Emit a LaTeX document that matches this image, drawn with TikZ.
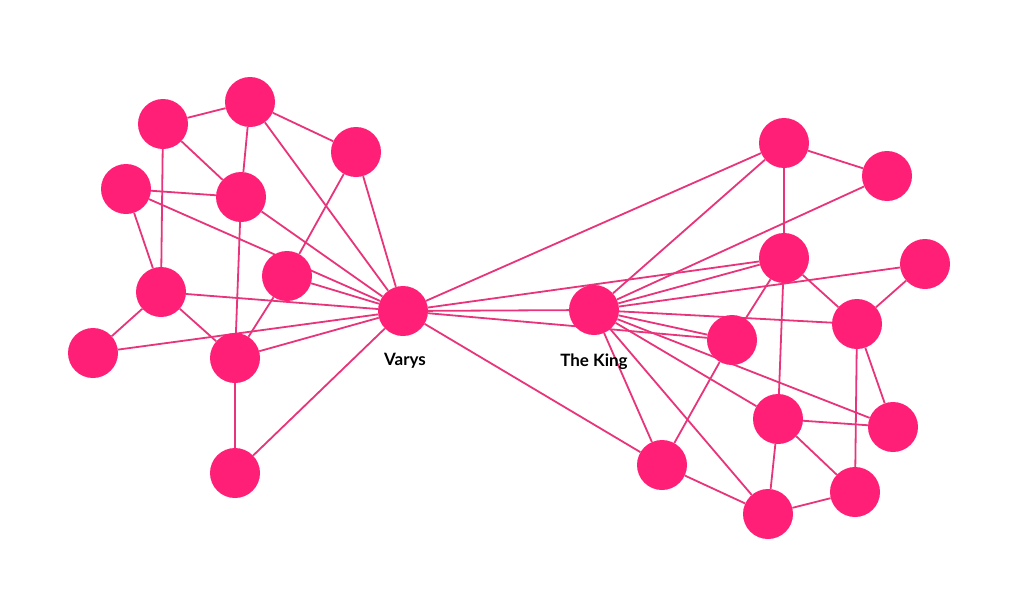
\documentclass[tikz,border=0pt]{standalone}
\usepackage{fontspec}
\setmainfont{Lato}
\usetikzlibrary{backgrounds}
\definecolor{nodepink}{RGB}{255,31,118}
\definecolor{edgepink}{RGB}{232,52,122}
\begin{document}
\begin{tikzpicture}[x=1pt,y=1pt,
  vertex/.style={circle,fill=nodepink,draw=none,minimum size=50pt,inner sep=0pt},
  edge/.style={draw=edgepink,line width=1.8pt},
  lbl/.style={font=\bfseries\fontsize{17}{17}\selectfont,text=black,inner sep=0pt}]
\useasboundingbox (0,0) rectangle (1024,-589);
% left cluster
\node[vertex] (L1) at (163,-124) {};
\node[vertex] (L2) at (250,-102) {};
\node[vertex] (L3) at (356,-152) {};
\node[vertex] (L4) at (126,-189) {};
\node[vertex] (L5) at (241,-197) {};
\node[vertex] (L6) at (287,-276) {};
\node[vertex] (L7) at (161,-292) {};
\node[vertex] (L8) at (93,-353) {};
\node[vertex] (L9) at (235,-358) {};
\node[vertex] (L10) at (235,-473) {};
\node[vertex] (V) at (403,-311) {};
% right cluster
\node[vertex] (K) at (594,-310) {};
\node[vertex] (R1) at (784,-143) {};
\node[vertex] (R2) at (887,-176) {};
\node[vertex] (R3) at (784,-258) {};
\node[vertex] (R4) at (925,-264) {};
\node[vertex] (R5) at (857,-324) {};
\node[vertex] (R6) at (732,-340) {};
\node[vertex] (R7) at (778,-419) {};
\node[vertex] (R8) at (893,-427) {};
\node[vertex] (R9) at (662,-465) {};
\node[vertex] (R10) at (855,-492) {};
\node[vertex] (R11) at (768,-514) {};
% labels
\node[lbl] (tV) at (405,-361) {Varys};
\node[lbl] (tK) at (594,-362) {The King};
\begin{scope}[on background layer]
% left edges
\draw[edge] (L1) -- (L2);
\draw[edge] (L1) -- (L5);
\draw[edge] (L1) -- (L7);
\draw[edge] (L2) -- (L5);
\draw[edge] (L2) -- (L3);
\draw[edge] (L2) -- (V);
\draw[edge] (L3) -- (V);
\draw[edge] (L3) -- (L6);
\draw[edge] (L6) -- (L9);
\draw[edge] (L4) -- (L5);
\draw[edge] (L4) -- (L7);
\draw[edge] (L4) -- (V);
\draw[edge] (L5) -- (V);
\draw[edge] (L5) -- (L9);
\draw[edge] (L6) -- (V);
\draw[edge] (L7) -- (V);
\draw[edge] (L7) -- (L8);
\draw[edge] (L7) -- (L9);
\draw[edge] (L8) -- (V);
\draw[edge] (L9) -- (V);
\draw[edge] (L9) -- (L10);
\draw[edge] (L10) -- (V);
% bridge
\draw[edge] (V) -- (K);
\draw[edge] (V) -- (R1);
\draw[edge] (V) -- (R3);
\draw[edge] (V) -- (R6);
\draw[edge] (V) -- (R9);
% right edges
\draw[edge] (K) -- (R1);
\draw[edge] (K) -- (R2);
\draw[edge] (K) -- (R3);
\draw[edge] (K) -- (R4);
\draw[edge] (K) -- (R5);
\draw[edge] (K) -- (R6);
\draw[edge] (K) -- (R8);
\draw[edge] (K) -- (R7);
\draw[edge] (K) -- (R11);
\draw[edge] (K) -- (R9);
\draw[edge] (R1) -- (R2);
\draw[edge] (R1) -- (R3);
\draw[edge] (R3) -- (R5);
\draw[edge] (R3) -- (R6);
\draw[edge] (R3) -- (R7);
\draw[edge] (R4) -- (R5);
\draw[edge] (R5) -- (R10);
\draw[edge] (R5) -- (R8);
\draw[edge] (R6) -- (R9);
\draw[edge] (R7) -- (R8);
\draw[edge] (R7) -- (R11);
\draw[edge] (R7) -- (R10);
\draw[edge] (R9) -- (R11);
\draw[edge] (R11) -- (R10);
\end{scope}
\end{tikzpicture}
\end{document}
